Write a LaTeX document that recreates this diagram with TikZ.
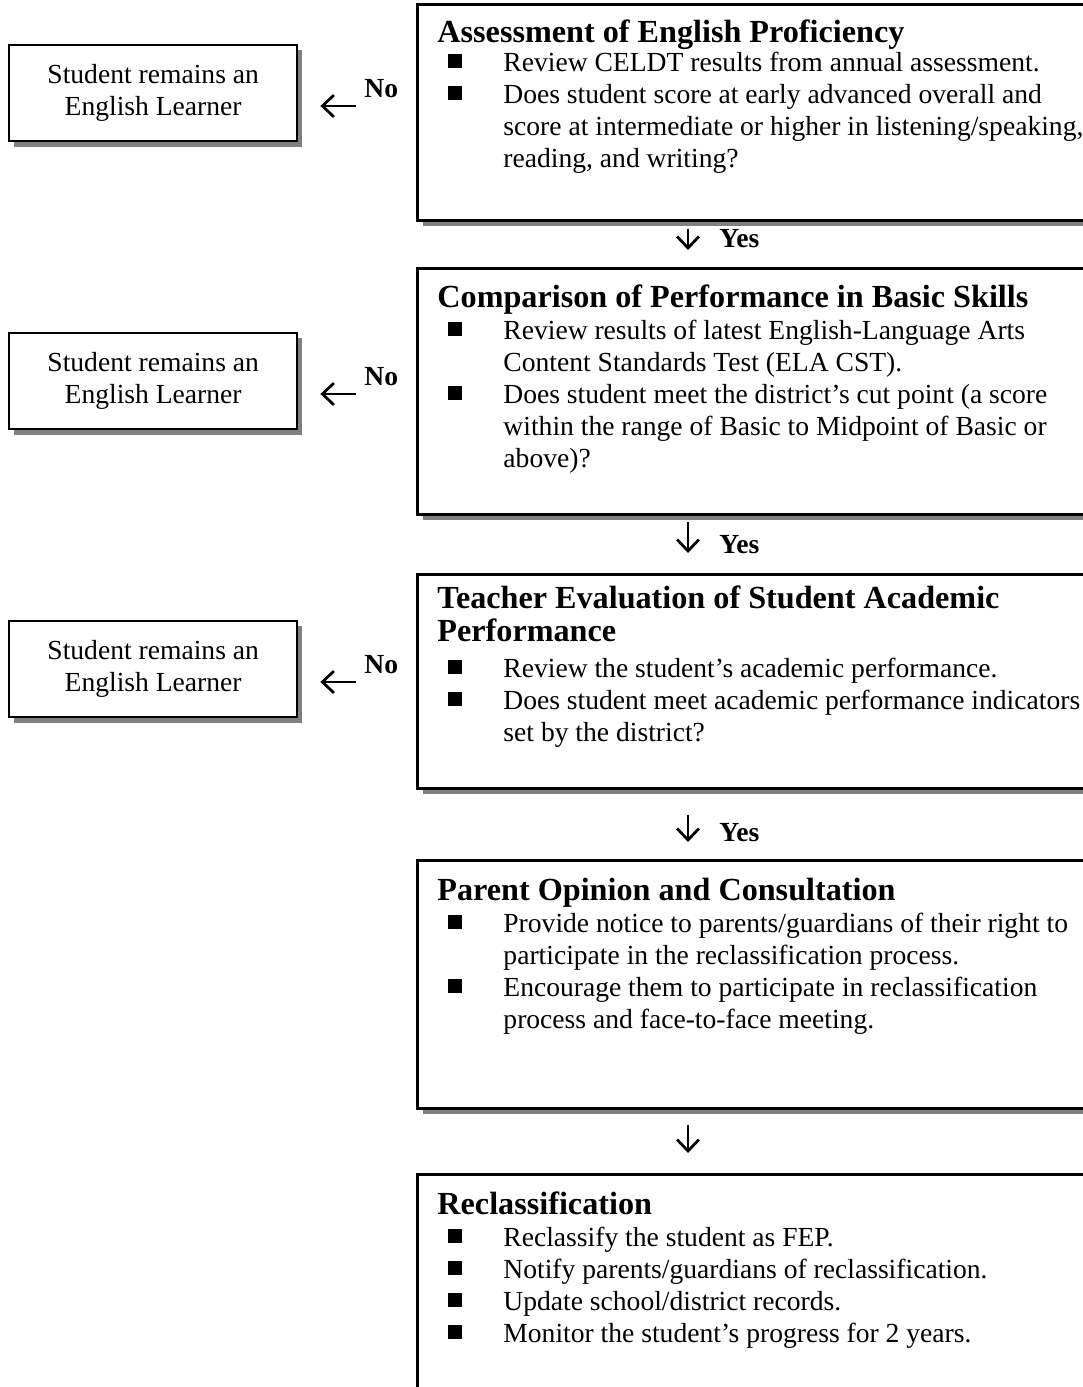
\documentclass[tikz,border=0pt]{standalone}
\usepackage{fontspec}
\setmainfont{Liberation Serif}
\usetikzlibrary{arrows.meta,shadows}
\definecolor{shd}{HTML}{808080}
\newcommand\blt{\makebox[23.9pt][l]{\rule[1.3pt]{6.1pt}{6.1pt}}}
\begin{document}
\begin{tikzpicture}[x=0.435pt,y=-0.435pt,
  rbox/.style={draw=black, line width=1.1pt, fill=white, anchor=north west, inner sep=0,
    minimum width=297.5pt,
    general shadow={fill=shd, shadow xshift=2.3pt, shadow yshift=-2.3pt}},
  lbox/.style={draw=black, line width=1pt, fill=white, anchor=north west, inner sep=0,
    minimum width=125.3pt, minimum height=41.8pt, align=center,
    font=\fontsize{12}{13.9}\selectfont,
    general shadow={fill=shd, shadow xshift=2.3pt, shadow yshift=-2.3pt}},
  hd/.style={font=\fontsize{14}{16}\selectfont\bfseries, anchor=base west, inner sep=0},
  tx/.style={font=\fontsize{12}{13.9}\selectfont, anchor=base west, inner sep=0},
  lbl/.style={font=\fontsize{12}{14}\selectfont\bfseries, anchor=base west, inner sep=0},
  arr/.style={-{Straight Barb[length=5pt,width=9.5pt]}, line width=1.2pt}
]
\useasboundingbox (0,0) rectangle (1083,1387);
\clip (0,0) rectangle (1083,1387);

% right boxes
\node[rbox, minimum height=94pt]   (b1) at (416,3)    {};
\node[rbox, minimum height=107pt]  (b2) at (416,267)  {};
\node[rbox, minimum height=93.1pt] (b3) at (416,573)  {};
\node[rbox, minimum height=107.9pt](b4) at (416,859)  {};
\node[rbox, minimum height=100pt]  (b5) at (416,1173) {};

% left boxes
\node[lbox] (l1) at (8,44)  {Student remains an\\English Learner};
\node[lbox] (l2) at (8,332) {Student remains an\\English Learner};
\node[lbox] (l3) at (8,620) {Student remains an\\English Learner};

% box 1 text
\node[hd] (h1) at (437,42) {Assessment of English Proficiency};
\node[tx] (t11) at (448,71)  {\blt Review CELDT results from annual assessment.};
\node[tx] (t12) at (448,103) {\blt Does student score at early advanced overall and};
\node[tx] (t13) at (503,135) {score at intermediate or higher in listening/speaking,};
\node[tx] (t14) at (503,167) {reading, and writing?};

% box 2 text
\node[hd] (h2) at (437,307) {Comparison of Performance in Basic Skills};
\node[tx] (t21) at (448,339) {\blt Review results of latest English-Language Arts};
\node[tx] (t22) at (503,371) {Content Standards Test (ELA CST).};
\node[tx] (t23) at (448,403) {\blt Does student meet the district’s cut point (a score};
\node[tx] (t24) at (503,435) {within the range of Basic to Midpoint of Basic or};
\node[tx] (t25) at (503,467) {above)?};

% box 3 text
\node[hd] (h3a) at (437,608) {Teacher Evaluation of Student Academic};
\node[hd] (h3b) at (437,641) {Performance};
\node[tx] (t31) at (448,677) {\blt Review the student’s academic performance.};
\node[tx] (t32) at (448,709) {\blt Does student meet academic performance indicators};
\node[tx] (t33) at (503,741) {set by the district?};

% box 4 text
\node[hd] (h4) at (437,900) {Parent Opinion and Consultation};
\node[tx] (t41) at (448,932)  {\blt Provide notice to parents/guardians of their right to};
\node[tx] (t42) at (503,964)  {participate in the reclassification process.};
\node[tx] (t43) at (448,996)  {\blt Encourage them to participate in reclassification};
\node[tx] (t44) at (503,1028) {process and face-to-face meeting.};

% box 5 text
\node[hd] (h5) at (437,1214) {Reclassification};
\node[tx] (t51) at (448,1246) {\blt Reclassify the student as FEP.};
\node[tx] (t52) at (448,1278) {\blt Notify parents/guardians of reclassification.};
\node[tx] (t53) at (448,1310) {\blt Update school/district records.};
\node[tx] (t54) at (448,1342) {\blt Monitor the student’s progress for 2 years.};

% down connectors
\coordinate (ax) at (688,0);
\draw[arr, shorten <=3pt,  shorten >=7.4pt] (b1.south -| ax) -- (b2.north -| ax);
\draw[arr, shorten <=3pt,  shorten >=8.7pt] (b2.south -| ax) -- (b3.north -| ax);
\draw[arr, shorten <=10.9pt, shorten >=7.4pt] (b3.south -| ax) -- (b4.north -| ax);
\draw[arr, shorten <=6.5pt, shorten >=8.7pt] (b4.south -| ax) -- (b5.north -| ax);

% left connectors
\coordinate (r1) at (0,106);
\coordinate (r2) at (0,394);
\coordinate (r3) at (0,682);
\draw[arr, shorten <=26.1pt, shorten >=9.6pt] (b1.west |- r1) -- (l1.east |- r1);
\draw[arr, shorten <=26.1pt, shorten >=9.6pt] (b2.west |- r2) -- (l2.east |- r2);
\draw[arr, shorten <=26.1pt, shorten >=9.6pt] (b3.west |- r3) -- (l3.east |- r3);

% labels
\node[lbl] (no1) at (364,97)  {No};
\node[lbl] (no2) at (364,385) {No};
\node[lbl] (no3) at (364,673) {No};
\node[lbl] (yes1) at (719,247) {Yes};
\node[lbl] (yes2) at (719,553) {Yes};
\node[lbl] (yes3) at (719,841) {Yes};
\end{tikzpicture}
\end{document}
